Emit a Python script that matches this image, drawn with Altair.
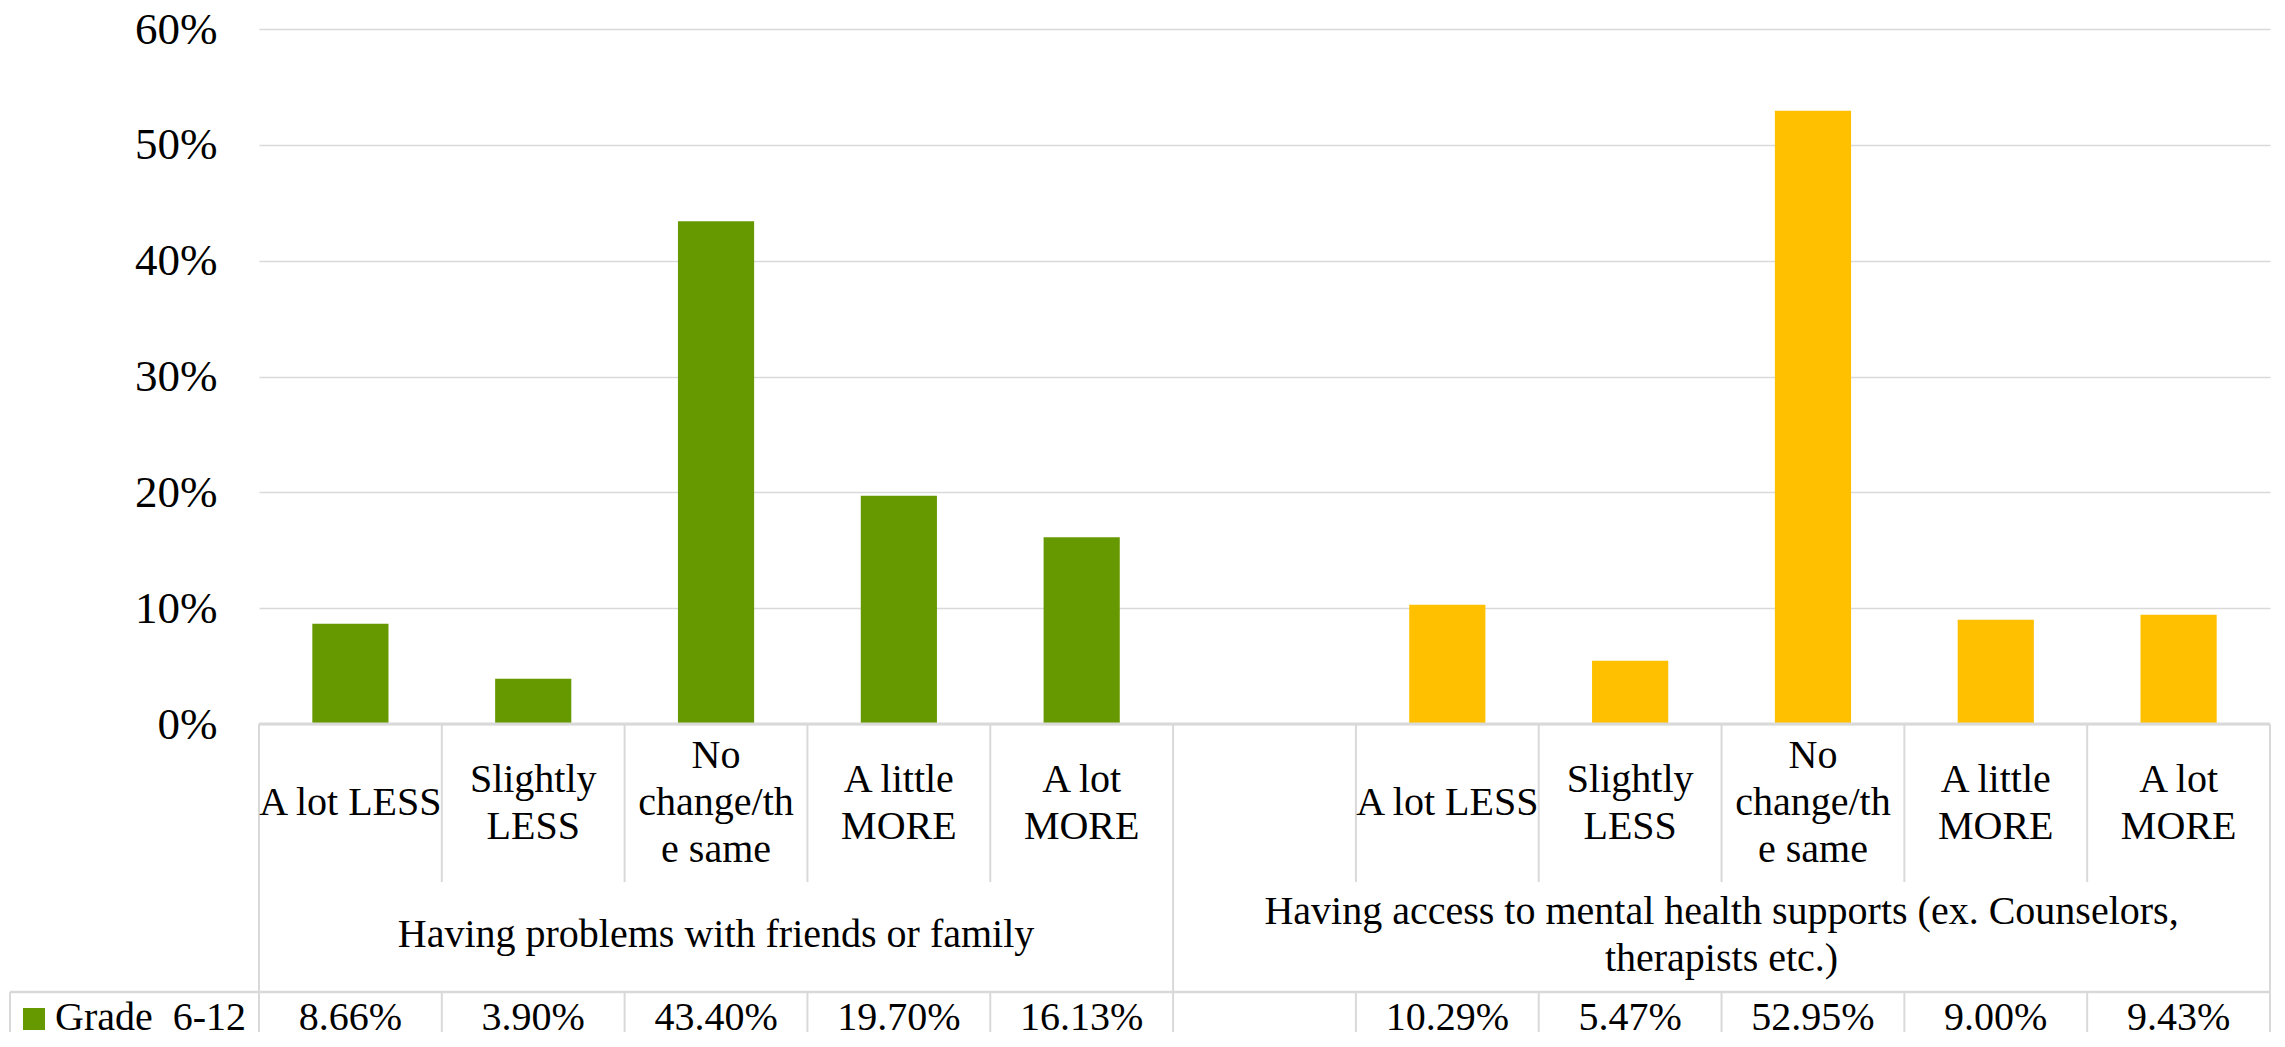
import altair as alt
import pandas as pd

# ---------------- data ----------------
categories = ["A lot LESS", "Slightly\nLESS", "No\nchange/th\ne same", "A little\nMORE", "A lot\nMORE"]
groups = [
    "Having problems with friends or family",
    "Having access to mental health supports (ex. Counselors,\ntherapists etc.)",
]
friends_values = [0.0866, 0.0390, 0.4340, 0.1970, 0.1613]
access_values = [0.1029, 0.0547, 0.5295, 0.0900, 0.0943]
series_name = "Grade\u00a0 6-12"
group_colors = ["#669900", "#FFC000"]
y_ticks = [0, 0.1, 0.2, 0.3, 0.4, 0.5, 0.6]

# ---------------- layout ----------------
W, H = 2011, 695
N_SLOTS = 11               # 5 categories + 1 blank + 5 categories
GROUP_START = [0, 5]       # group 2 begins with a blank slot
GROUP_END = [5, 11]
BAR_HALF = 1 / 4.8         # Excel gap width 140%
CAT_END, DATA_TOP, TABLE_END = 158, 268, 308
CAT_MID, GROUP_MID, DATA_MID = 79, 211, 294
LH = 47
FONT = "Liberation Serif"
LINE = "#d9d9d9"

xscale = alt.Scale(domain=[0, N_SLOTS], nice=False, zero=False)
tscale = alt.Scale(domain=[0, TABLE_END], range=[H, H + TABLE_END], nice=False, zero=False)


def first_line(center, text):
    n = text.count("\n") + 1
    return center - (n - 1) * LH / 2


# bars / values / category labels
rows = []
for g, vals in enumerate([friends_values, access_values]):
    first = 0 if g == 0 else 6
    for k, v in enumerate(vals):
        c = first + k + 0.5
        rows.append({"group": g, "cat": categories[k], "xc": c,
                     "x0": c - BAR_HALF, "x1": c + BAR_HALF, "value": v,
                     "cat_y": first_line(CAT_MID, categories[k]),
                     "val_y": DATA_MID})
bars_df = pd.DataFrame(rows)
bars_df["color"] = [group_colors[g] for g in bars_df["group"]]

group_df = pd.DataFrame({
    "label": groups,
    "xc": [(GROUP_START[i] + GROUP_END[i]) / 2 for i in range(2)],
    "y": [first_line(GROUP_MID, t) for t in groups],
})

# table grid lines
vl = []
for b in range(N_SLOTS + 1):
    if b in (0, 5, N_SLOTS):
        vl.append({"x": b, "y": 0, "y2": TABLE_END})
    else:
        vl.append({"x": b, "y": 0, "y2": CAT_END})
        vl.append({"x": b, "y": DATA_TOP, "y2": TABLE_END})
vlines_df = pd.DataFrame(vl)
axis_df = pd.DataFrame({"x": [0], "x2": [N_SLOTS], "y": [0]})
border_df = pd.DataFrame({"y": [DATA_TOP], "y2": [TABLE_END]})
legend_df = pd.DataFrame({"label": [series_name], "y": [DATA_MID], "ys": [DATA_MID + 1]})

bars = alt.Chart(bars_df).mark_rect().encode(
    x=alt.X("x0:Q", scale=xscale, axis=None),
    x2="x1:Q",
    y=alt.Y("value:Q", scale=alt.Scale(domain=[0, 0.6], nice=False),
            axis=alt.Axis(values=y_ticks, format=".0%", domain=False, ticks=False, tickSize=0,
                          labelPadding=42, labelFont=FONT, labelFontSize=45, labelColor="#000000",
                          gridColor=LINE, gridWidth=1.5, title=None)),
    y2=alt.datum(0),
    color=alt.Color("color:N", scale=None),
)

vlines = alt.Chart(vlines_df).mark_rule(color=LINE, strokeWidth=2).encode(
    x=alt.X("x:Q", scale=xscale, axis=None),
    y=alt.Y("y:Q", scale=tscale, axis=None),
    y2="y2:Q",
)

axisline = alt.Chart(axis_df).mark_rule(color=LINE, strokeWidth=3).encode(
    x=alt.X("x:Q", scale=xscale, axis=None),
    x2="x2:Q",
    y=alt.Y("y:Q", scale=tscale, axis=None),
)

data_top = alt.Chart(border_df).mark_rule(color=LINE, strokeWidth=2.5).encode(
    x=alt.value(-249), x2=alt.value(W),
    y=alt.Y("y:Q", scale=tscale, axis=None),
)
data_left = alt.Chart(border_df).mark_rule(color=LINE, strokeWidth=2).encode(
    x=alt.value(-249),
    y=alt.Y("y:Q", scale=tscale, axis=None),
    y2="y2:Q",
)

cat_text = alt.Chart(bars_df).mark_text(
    font=FONT, fontSize=40, color="#000000", lineBreak="\n", lineHeight=LH,
    align="center", baseline="middle",
).encode(
    x=alt.X("xc:Q", scale=xscale, axis=None),
    y=alt.Y("cat_y:Q", scale=tscale, axis=None),
    text="cat:N",
)

group_text = alt.Chart(group_df).mark_text(
    font=FONT, fontSize=40, color="#000000", lineBreak="\n", lineHeight=LH,
    align="center", baseline="middle",
).encode(
    x=alt.X("xc:Q", scale=xscale, axis=None),
    y=alt.Y("y:Q", scale=tscale, axis=None),
    text="label:N",
)

value_text = alt.Chart(bars_df).mark_text(
    font=FONT, fontSize=40, color="#000000", align="center", baseline="middle",
).encode(
    x=alt.X("xc:Q", scale=xscale, axis=None),
    y=alt.Y("val_y:Q", scale=tscale, axis=None),
    text=alt.Text("value:Q", format=".2%"),
)

legend_sq = alt.Chart(legend_df).mark_square(size=484, color=group_colors[0], opacity=1).encode(
    x=alt.value(-225),
    y=alt.Y("ys:Q", scale=tscale, axis=None),
)
legend_txt = alt.Chart(legend_df).mark_text(
    font=FONT, fontSize=40, color="#000000", align="left", baseline="middle",
).encode(
    x=alt.value(-204),
    y=alt.Y("y:Q", scale=tscale, axis=None),
    text="label:N",
)

chart = alt.layer(
    bars, vlines, axisline, data_top, data_left,
    cat_text, group_text, value_text, legend_sq, legend_txt,
).resolve_scale(y="independent").properties(
    width=W, height=H,
    autosize=alt.AutoSizeParams(type="none"),
    padding={"left": 251, "top": 21, "right": 5, "bottom": 308},
    background="white",
).configure_view(stroke=None)

chart.save("out.html", embed_options={"renderer": "svg", "actions": False})
